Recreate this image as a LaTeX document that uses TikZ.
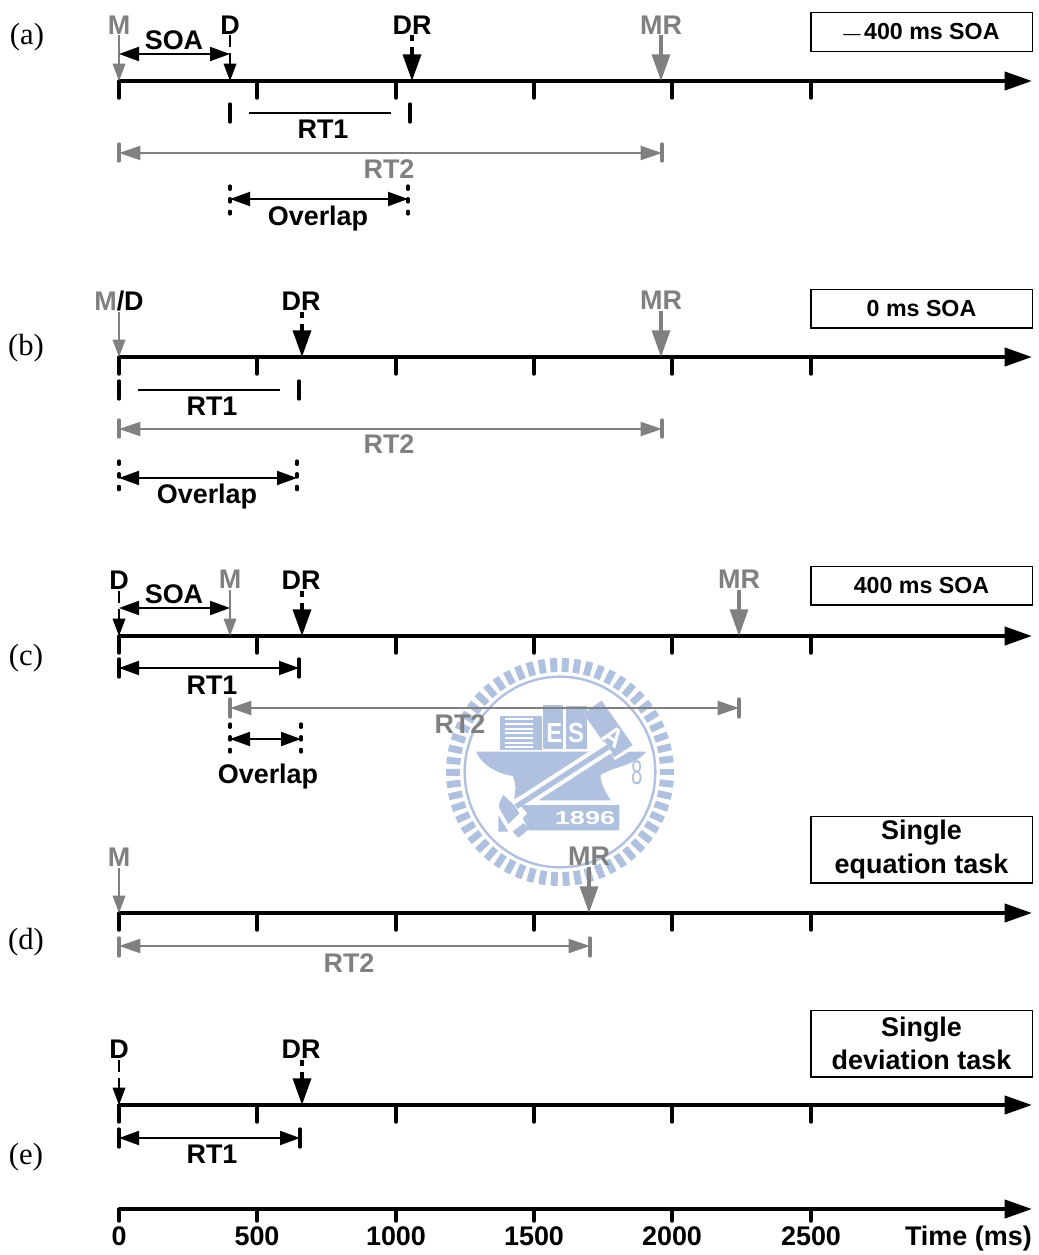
\documentclass[tikz,border=0pt]{standalone}
\usepackage{fontspec}
\setmainfont{Liberation Sans}
\newfontfamily\serf{Liberation Serif}
\usetikzlibrary{arrows.meta}
\definecolor{gry}{HTML}{808080}
\definecolor{wm}{HTML}{B0C1DF}
\tikzset{
  lab/.style={font=\fontsize{20.2}{24}\bfseries\selectfont,inner sep=0pt,text height=14.5pt,text depth=0pt},
  blab/.style={lab,text=black},
  glab/.style={lab,text=gry},
  panel/.style={font=\fontsize{23}{26}\serf\selectfont,inner sep=0pt},
  axisline/.style={line width=3pt,-{Triangle[length=20.5pt,width=13.5pt]}},
  tickmark/.style={line width=2.6pt,line cap=round},
  evgrey/.style={draw=gry,line width=1pt,-{Triangle[length=13pt,width=9.5pt]},fill=none},
  evgreyb/.style={draw=gry,line width=2.5pt,-{Triangle[length=20pt,width=13.5pt]}},
  evdash/.style={draw=black,line width=1pt,dash pattern=on 9pt off 4.5pt on 40pt off 0pt,-{Triangle[length=13pt,width=9.5pt]}},
  evdot/.style={draw=black,line width=2.6pt,dash pattern=on 4.5pt off 4.5pt on 40pt off 0pt,-{Triangle[length=20pt,width=13.5pt]}},
  span/.style={line width=1.5pt,{Triangle[length=15pt,width=10.5pt]}-{Triangle[length=15pt,width=10.5pt]}},
  spang/.style={draw=gry,line width=1.5pt,{Triangle[length=16pt,width=10.5pt]}-{Triangle[length=16pt,width=10.5pt]}},
  bar/.style={line width=2.5pt,line cap=round},
  barg/.style={draw=gry,line width=2.5pt,line cap=round},
  bardot/.style={line width=2.4pt,line cap=round,dash pattern=on 2.5pt off 7pt},
  tag/.style={draw=black,line width=1pt,minimum width=166pt,align=center,inner sep=0pt},
  tagsmall/.style={tag,minimum height=29pt,font=\fontsize{17.4}{20}\bfseries\selectfont},
  tagbig/.style={tag,minimum height=50pt,font=\fontsize{20.2}{24.8}\bfseries\selectfont},
}
% axis with ticks: id, y, tick length
\newcommand\TimeAxis[3]{%
  \coordinate (#1s) at (119,#2); \coordinate (#1e) at (1032,#2);
  \draw[axisline] (#1s) -- (#1e);
  \foreach \i/\xx in {0/119,1/257,2/396,3/534,4/672,5/811}{
    \coordinate (#1t\i) at (\xx,#2); \coordinate (#1u\i) at (\xx,#2+#3);
    \draw[tickmark] (#1t\i) -- (#1u\i);}%
}
% event: id, text, label style, label x, label y, axis x, axis y, arrow style
\newcommand\Ev[8]{%
  \node[#3] (#1) at (#4,#5) {#2};
  \coordinate (#1a) at (#6,#7);
  \draw[#8] ([yshift=-.7pt]#1.south -| #1a) -- (#1a);%
}
% two end bars: id, x1, x2, ytop, ybot, bar style
\newcommand\Bars[6]{%
  \coordinate (#1p) at (#2,#4); \coordinate (#1q) at (#2,#5);
  \coordinate (#1r) at (#3,#4); \coordinate (#1s) at (#3,#5);
  \draw[#6] (#1p) -- (#1q); \draw[#6] (#1r) -- (#1s);%
}
\begin{document}
\begin{tikzpicture}[x=.75pt,y=-.75pt]
\useasboundingbox (0,0) rectangle (1038,1255);
% ---- watermark
\begin{scope}[shift={(560,772)}]
  \foreach \a in {0,6.2,...,359}{
    \draw[wm,line width=5.2pt] (\a:100) -- (\a:114);}
  \node[draw=wm,line width=1.8pt,circle,minimum size=143pt,inner sep=0pt] (wmring) at (0,0) {};
\end{scope}
\begin{scope}[shift={(440,650)},x=.25pt,y=-.25pt]
  \fill[wm] (108,305) -- (618,305) .. controls (590,345) and (520,350) .. (482,375)
     .. controls (480,400) and (500,430) .. (512,451) -- (300,451) -- (260,430) -- (222,447)
     .. controls (228,420) and (228,400) .. (218,378) .. controls (170,370) and (125,345) .. (108,305) -- cycle;
  \fill[wm] (180,197) rectangle (305,300);
  \foreach \yy in {205,219,233,247,261,275,289}{\fill[white] (195,\yy) rectangle (280,\yy+6);}
  \fill[white] (305,165) rectangle (310,305);
  \fill[wm] (310,165) rectangle (370,297);
  \fill[white] (370,165) rectangle (378,305);
  \fill[wm] (378,168) rectangle (440,297);
  \fill[white] (430,190) -- (490,150) -- (590,290) -- (525,330) -- cycle;
  \fill[wm] (430,190) -- (485,152) -- (578,285) -- (522,322) -- cycle;
  \draw[white,line width=10pt] (228,470) -- (505,291);
  \draw[wm,line width=4pt] (228,470) -- (505,291);
  \fill[wm] (240,465) -- (538,465) -- (538,541) -- (268,541) -- (248,505) -- (262,490) -- cycle;
  \fill[wm] (190,435) .. controls (180,450) and (175,465) .. (178,475) -- (205,522) -- (238,490) -- (222,465) -- cycle;
  \fill[wm] (175,495) -- (205,545) -- (175,545) -- cycle;
  \fill[wm] (218,545) -- (250,520) -- (270,535) -- (235,563) -- cycle;
  \node[text=white,font=\fontsize{18}{20}\bfseries\selectfont,inner sep=0pt,yscale=1.15] (wmE) at (343,250) {E};
  \node[text=white,font=\fontsize{18}{20}\bfseries\selectfont,inner sep=0pt,yscale=1.15] (wmS) at (408,250) {S};
  \node[text=white,font=\fontsize{20}{22}\bfseries\selectfont,inner sep=0pt,rotate=-35] (wmA) at (520,260) {A};
  \node[text=white,font=\fontsize{14}{16}\bfseries\selectfont,inner sep=0pt,xscale=1.45] (wmY) at (435,503) {1896};
  \node[text=wm,font=\fontsize{17}{20}\selectfont,inner sep=0pt,yscale=1.5,xscale=.9] (wmB) at (590,368) {8};
\end{scope}
% ---- panel labels
\node[panel] (la) at (27,37.5) {(a)};
\node[panel] (lb) at (26,348.5) {(b)};
\node[panel] (lc) at (26,658.5) {(c)};
\node[panel] (ld) at (26,942.5) {(d)};
\node[panel] (le) at (26,1157.5) {(e)};
% ---- panel a
\TimeAxis{a}{81}{17}
\Ev{aM}{M}{glab}{119}{24.5}{119}{81}{evgrey}
\Ev{aD}{D}{blab}{230}{24.5}{230}{81}{evdash}
\Ev{aDR}{DR}{blab}{412}{24.5}{412}{81}{evdot}
\Ev{aMR}{MR}{glab}{661}{24.5}{661}{81}{evgreyb}
\draw[span] (aMa |- 0,54) coordinate (aso1) -- (aDa |- 0,54) coordinate (aso2);
\node[blab] (aSOA) at (174,39.5) {SOA};
\node[tagsmall] (atag) at (921.5,32) {{\fontseries{m}\selectfont\fontsize{13}{13}\selectfont —}\hspace{2.5pt}400 ms SOA};
\Bars{art}{230}{410}{104}{122}{bar}
\coordinate (art1) at (249,113); \coordinate (art2) at (391,113);
\draw[line width=1.2pt] (art1) -- (art2);
\node[blab] (aRT) at (323,129) {RT1};
\Bars{ars}{119}{662}{144}{161}{barg}
\draw[spang] (119,153) coordinate (ars1) -- (662,153) coordinate (ars2);
\node[glab] (aRS) at (389,169) {RT2};
\Bars{aov}{230}{408}{186}{214}{bardot}
\draw[span] (230,199) coordinate (aov1) -- (408,199) coordinate (aov2);
\node[blab] (aOV) at (318,216) {Overlap};
% ---- panel b
\TimeAxis{b}{357}{17}
\node[lab,anchor=center] (bMD) at (119,301) {\textcolor{gry}{M}/D};
\coordinate (bMa) at (119,357);
\draw[evgrey] ([yshift=-.7pt]bMD.south -| bMa) -- (bMa);
\Ev{bDR}{DR}{blab}{301}{301}{302}{357}{evdot}
\Ev{bMR}{MR}{glab}{661}{300}{661}{357}{evgreyb}
\node[tagsmall] (btag) at (921.5,308.5) {0 ms SOA};
\Bars{brt}{119}{299}{381}{399}{bar}
\coordinate (brt1) at (138,390); \coordinate (brt2) at (280,390);
\draw[line width=1.2pt] (brt1) -- (brt2);
\node[blab] (bRT) at (212,406) {RT1};
\Bars{brs}{119}{662}{420}{437}{barg}
\draw[spang] (119,429) coordinate (brs1) -- (662,429) coordinate (brs2);
\node[glab] (bRS) at (389,444) {RT2};
\Bars{bov}{119}{297}{461}{490}{bardot}
\draw[span] (119,478) coordinate (bov1) -- (297,478) coordinate (bov2);
\node[blab] (bOV) at (207,494) {Overlap};
% ---- panel c
\TimeAxis{c}{636}{17}
\Ev{cD}{D}{blab}{119}{580}{119}{636}{evdash}
\Ev{cM}{M}{glab}{230}{579}{230}{636}{evgrey}
\Ev{cDR}{DR}{blab}{301}{580}{302}{636}{evdot}
\Ev{cMR}{MR}{glab}{739}{579}{739}{636}{evgreyb}
\draw[span] (119,608) coordinate (cso1) -- (230,608) coordinate (cso2);
\node[blab] (cSOA) at (174,594) {SOA};
\node[tagsmall] (ctag) at (921.5,585.5) {400 ms SOA};
\Bars{crt}{119}{299}{659}{677}{bar}
\draw[span] (119,668) coordinate (crt1) -- (299,668) coordinate (crt2);
\node[blab] (cRT) at (212,685) {RT1};
\Bars{crs}{230}{739}{699}{717}{barg}
\draw[spang] (230,708) coordinate (crs1) -- (739,708) coordinate (crs2);
\node[glab] (cRS) at (460,724) {RT2};
\Bars{cov}{230}{301}{724}{752}{bardot}
\draw[span] (230,739) coordinate (cov1) -- (301,739) coordinate (cov2);
\node[blab] (cOV) at (268,774) {Overlap};
% ---- panel d
\TimeAxis{d}{913}{17}
\Ev{dM}{M}{glab}{119}{857}{119}{913}{evgrey}
\Ev{dMR}{MR}{glab}{589}{856}{589}{913}{evgreyb}
\node[tagbig] (dtag) at (921.5,849.5) {Single\\equation task};
\Bars{drs}{119}{590}{938}{956}{barg}
\draw[spang] (119,946) coordinate (drs1) -- (590,946) coordinate (drs2);
\node[glab] (dRS) at (349,963) {RT2};
% ---- panel e
\TimeAxis{e}{1105}{17}
\Ev{eD}{D}{blab}{119}{1049}{119}{1105}{evdash}
\Ev{eDR}{DR}{blab}{301}{1049}{302}{1105}{evdot}
\node[tagbig] (etag) at (921.5,1043.5) {Single\\deviation task};
\Bars{ert}{119}{300}{1129}{1147}{bar}
\draw[span] (119,1138) coordinate (ert1) -- (300,1138) coordinate (ert2);
\node[blab] (eRT) at (212,1154) {RT1};
% ---- scale axis
\TimeAxis{f}{1209}{12}
\node[blab] (f0) at (119,1236) {0};
\node[blab] (f1) at (257,1236) {500};
\node[blab] (f2) at (396,1236) {1000};
\node[blab] (f3) at (534,1236) {1500};
\node[blab] (f4) at (672,1236) {2000};
\node[blab] (f5) at (811,1236) {2500};
\node[blab,anchor=east] (f6) at (1032,1236) {Time (ms)};
\end{tikzpicture}
\end{document}
